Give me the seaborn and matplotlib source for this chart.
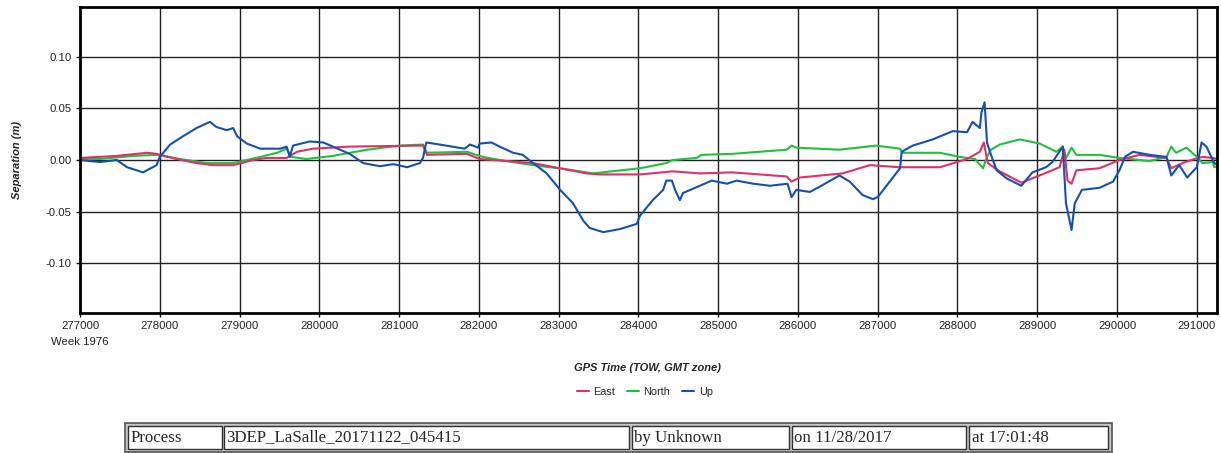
import matplotlib
matplotlib.use("Agg")
import matplotlib.pyplot as plt
from matplotlib.patches import Rectangle
import pandas as pd
import seaborn as sns

# GPS time of week (s) and separation (m)
up_t = [277000, 277250, 277460, 277590, 277790, 277960, 278000, 278130, 278290, 278460,
        278630, 278710, 278840, 278920, 278970, 279090, 279260, 279510, 279590, 279630,
        279670, 279880, 280050, 280170, 280380, 280550, 280760, 280930, 281100, 281260,
        281300, 281340, 281510, 281820, 281890, 281990, 282010, 282160, 282260, 282430,
        282550, 282680, 282850, 283020, 283180, 283310, 283390, 283560, 283770, 283980,
        284020, 284180, 284310, 284350, 284420, 284460, 284520, 284560, 284680, 284920,
        285110, 285230, 285440, 285650, 285870, 285920, 285980, 286150, 286270, 286520,
        286650, 286810, 286940, 287000, 287150, 287280, 287300, 287440, 287690, 287940,
        288120, 288190, 288280, 288300, 288340, 288370, 288420, 288490, 288620, 288800,
        288940, 289110, 289190, 289320, 289360, 289430, 289470, 289560, 289780, 289950,
        290030, 290100, 290200, 290410, 290620, 290680, 290780, 290880, 291000, 291060,
        291120, 291220, 291247]
up_v = [0.000, -0.002, 0.000, -0.007, -0.012, -0.005, 0.003, 0.015, 0.023, 0.031,
        0.037, 0.032, 0.029, 0.031, 0.023, 0.016, 0.011, 0.011, 0.013, 0.003,
        0.014, 0.018, 0.017, 0.013, 0.006, -0.003, -0.006, -0.004, -0.007, -0.003,
        0.002, 0.017, 0.015, 0.011, 0.015, 0.012, 0.016, 0.017, 0.013, 0.007,
        0.005, -0.003, -0.013, -0.029, -0.042, -0.059, -0.066, -0.070, -0.067, -0.062,
        -0.054, -0.039, -0.029, -0.020, -0.020, -0.029, -0.039, -0.032, -0.028, -0.020,
        -0.023, -0.020, -0.023, -0.025, -0.023, -0.036, -0.029, -0.031, -0.026, -0.015,
        -0.021, -0.034, -0.038, -0.036, -0.021, -0.008, 0.008, 0.014, 0.020, 0.028,
        0.027, 0.037, 0.031, 0.046, 0.056, 0.017, 0.005, -0.010, -0.018, -0.025,
        -0.012, -0.007, -0.002, 0.013, -0.042, -0.068, -0.042, -0.029, -0.027, -0.021,
        -0.010, 0.003, 0.008, 0.005, 0.003, -0.015, -0.005, -0.017, -0.007, 0.017,
        0.013, -0.003, -0.004]

east_t = [277000, 277005, 277460, 277840, 277960, 278210, 278460, 278670, 278920, 279170,
          279340, 279590, 279720, 279920, 280380, 281260, 281300, 281350, 281850, 282010,
          282680, 283350, 283520, 284020, 284430, 284770, 285180, 285860, 285920, 286020,
          286560, 286900, 287280, 287780, 288120, 288280, 288330, 288380, 288530, 288800,
          289030, 289280, 289340, 289380, 289430, 289490, 289780, 290030, 290280, 290620,
          290680, 290820, 290970, 291070, 291200, 291247]
east_v = [-0.148, 0.002, 0.004, 0.007, 0.006, 0.001, -0.003, -0.005, -0.005, 0.000,
          0.002, 0.002, 0.008, 0.011, 0.013, 0.014, 0.014, 0.005, 0.006, 0.001,
          -0.003, -0.013, -0.014, -0.014, -0.011, -0.013, -0.012, -0.016, -0.021, -0.017,
          -0.013, -0.005, -0.007, -0.007, 0.001, 0.008, 0.017, -0.003, -0.011, -0.022,
          -0.015, -0.007, 0.010, -0.020, -0.023, -0.010, -0.008, 0.000, 0.005, 0.002,
          -0.008, -0.003, 0.001, 0.003, 0.002, 0.001]

north_t = [277000, 277005, 277250, 277670, 277960, 278250, 278590, 278920, 279260, 279470,
           279590, 279650, 279840, 280170, 280600, 281010, 281300, 281350, 281850, 282050,
           282260, 282680, 283100, 283430, 284020, 284350, 284430, 284730, 284790, 285180,
           285860, 285920, 285980, 286520, 286980, 287280, 287310, 287780, 288030, 288220,
           288320, 288370, 288420, 288530, 288780, 289030, 289240, 289320, 289360, 289430,
           289490, 289780, 290030, 290410, 290620, 290680, 290740, 290870, 291000, 291070,
           291200, 291220, 291247]
north_v = [0.062, 0.001, 0.001, 0.004, 0.005, 0.001, -0.003, -0.003, 0.003, 0.007,
           0.011, 0.003, 0.001, 0.004, 0.010, 0.014, 0.015, 0.007, 0.008, 0.003,
           0.000, -0.005, -0.009, -0.013, -0.008, -0.003, 0.000, 0.002, 0.005, 0.006,
           0.010, 0.014, 0.012, 0.010, 0.014, 0.011, 0.007, 0.007, 0.003, 0.001,
           -0.008, 0.003, 0.010, 0.015, 0.020, 0.016, 0.008, 0.013, 0.002, 0.012,
           0.005, 0.005, 0.002, -0.001, 0.003, 0.013, 0.007, 0.012, 0.003, -0.003,
           -0.002, -0.007, -0.006]

colors = {"East": "#e0306a", "North": "#20c040", "Up": "#1450b4"}

table_cells = ["Process", "3DEP_LaSalle_20171122_045415", "by Unknown", "on 11/28/2017", "at 17:01:48"]

df = pd.concat([
    pd.DataFrame({"tow": north_t, "sep": north_v, "component": "North"}),
    pd.DataFrame({"tow": east_t, "sep": east_v, "component": "East"}),
    pd.DataFrame({"tow": up_t, "sep": up_v, "component": "Up"}),
])

sns.set_style("white")
plt.rcParams["font.family"] = ["Liberation Sans", "DejaVu Sans"]

fig = plt.figure(figsize=(12.21, 4.53), dpi=100)
ax = fig.add_axes([80 / 1221, 1 - 312.5 / 453, 1136.5 / 1221, 305.5 / 453])

sns.lineplot(data=df, x="tow", y="sep", hue="component", hue_order=["North", "East", "Up"],
             palette=colors, estimator=None, sort=False, linewidth=1.5, ax=ax)
ax.get_legend().remove()

ax.set_xlim(277000, 291247)
ax.set_ylim(-0.148, 0.1485)
ax.set_xticks(range(277000, 291001, 1000))
ax.set_yticks([-0.10, -0.05, 0.0, 0.05, 0.10])
ax.set_yticklabels(["-0.10", "-0.05", "0.00", "0.05", "0.10"])
ax.grid(True, color="#202020", linewidth=1.0)
ax.set_axisbelow(True)
for s in ax.spines.values():
    s.set_color("black")
    s.set_linewidth(2)
ax.tick_params(axis="both", which="major", labelsize=8.2, length=3, width=1,
               color="black", labelcolor="#222222", direction="out", pad=3, left=True, bottom=True)
ax.set_xlabel("")
ax.set_ylabel("Separation (m)", fontsize=8, fontweight="bold", fontstyle="italic")
ax.yaxis.set_label_coords(-58 / 1136.5, 0.5)

fig.text(80 / 1221, 1 - 342 / 453, "Week 1976", ha="center", va="center", fontsize=8.2,
         color="#222222")
fig.text(648 / 1221, 1 - 368 / 453, "GPS Time (TOW, GMT zone)", ha="center", va="center",
         fontsize=8, fontweight="bold", fontstyle="italic")

handles, labels = ax.get_legend_handles_labels()
if not handles:
    handles = ax.get_lines()[:3]
    labels = ["North", "East", "Up"]
order = [labels.index(k) for k in ["East", "North", "Up"]]
fig.legend([handles[i] for i in order], [labels[i] for i in order], loc="center",
           bbox_to_anchor=(645 / 1221, 1 - 392 / 453), ncol=3, frameon=False,
           fontsize=7.8, handlelength=1.1, handletextpad=0.4, columnspacing=1.1)

# info table at the bottom
tax = fig.add_axes([0, 0, 1, 1])
tax.set_xlim(0, 1221)
tax.set_ylim(453, 0)
tax.axis("off")
tax.add_patch(Rectangle((125, 423), 987, 29, facecolor="#c8c8c8", edgecolor="#555555", linewidth=1.2))
cell_x = [(128, 222), (224, 629), (632, 789), (792, 966), (969, 1108)]
for (x0, x1), txt in zip(cell_x, table_cells):
    tax.add_patch(Rectangle((x0, 425.5), x1 - x0, 23.5, facecolor="white", edgecolor="#303030", linewidth=1.0))
    tax.text(x0 + 2.5, 437.5, txt, ha="left", va="center", fontsize=12.2,
             family=["Liberation Serif", "DejaVu Serif"])

fig.savefig("out.png", dpi=100)
